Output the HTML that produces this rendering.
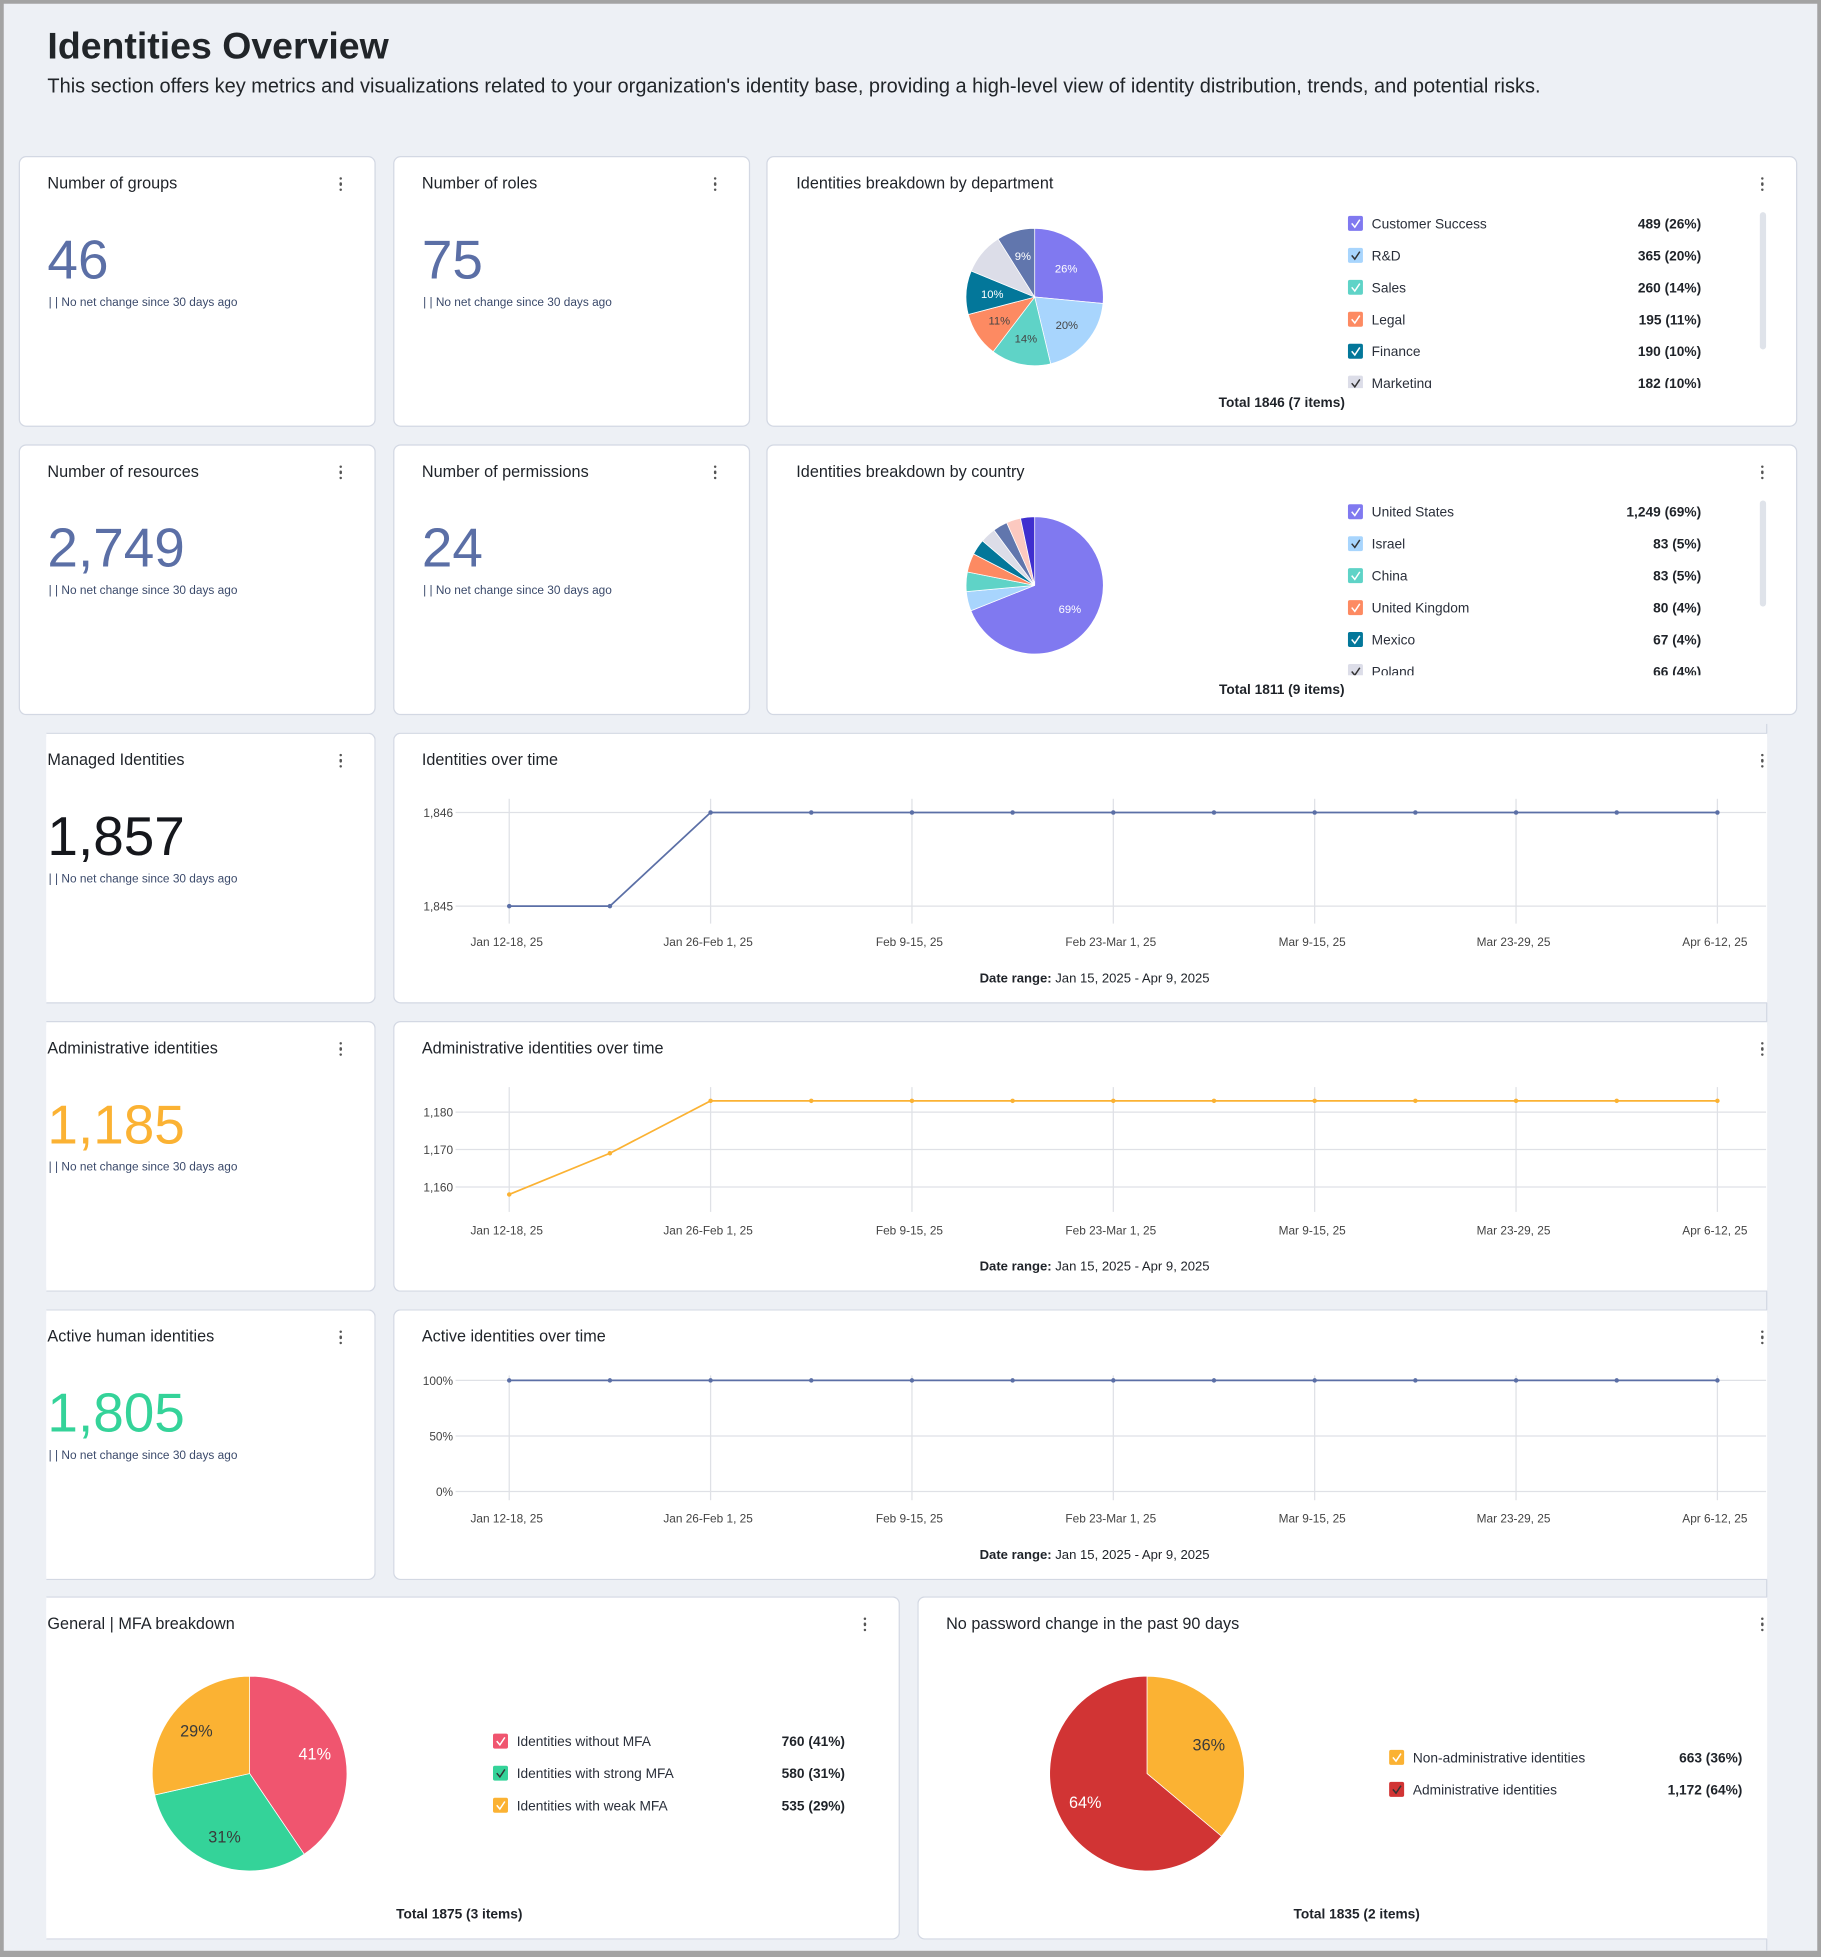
<!DOCTYPE html>
<html><head><meta charset="utf-8">
<style>
html,body{margin:0;padding:0;width:1821px;height:1957px;overflow:hidden;background:#a3a3a3;}
#wrap{position:absolute;left:0;top:0;width:1459px;height:1568px;transform:scale(1.24811);transform-origin:0 0;font-family:"Liberation Sans",sans-serif;color:#212529;}
#page{position:absolute;left:3px;top:3px;width:1453px;height:1560px;background:#edf0f5;overflow:hidden;}
.card{position:absolute;background:#fff;border:1px solid #d3d8e3;border-radius:6px;box-sizing:border-box;}
.card.clipL{border-left:none;border-top-left-radius:0;border-bottom-left-radius:0;}
.card.clipR{border-right:none;border-top-right-radius:0;border-bottom-right-radius:0;}
.ttl{position:absolute;font-size:13px;color:#1f2329;white-space:nowrap;}
.dots{position:absolute;width:3px;font-size:0;}
.dots i{display:block;width:2.4px;height:2.4px;border-radius:50%;background:#555;margin-bottom:2px;}
.big{position:absolute;font-size:44px;color:#5b6fa6;line-height:1;}
.sub{position:absolute;font-size:9.5px;color:#3b4a6b;white-space:nowrap;}
svg{position:absolute;left:0;top:0;overflow:visible;}
</style></head>
<body>
<div id="wrap">
<div id="page">
</div>
<svg id="svg" width="1459" height="1568" style="pointer-events:none"></svg>
</div>
<script>
// ---------- data ----------
const deptNames=["Customer Success","R&D","Sales","Legal","Finance","Marketing","Operations"];
const deptValues=[489,365,260,195,190,182,165];
const countryNames=["United States","Israel","China","United Kingdom","Mexico","Poland","Germany","India","Canada"];
const countryValues=[1249,83,83,80,67,66,62,61,60];
const mfaNames=["Identities without MFA","Identities with strong MFA","Identities with weak MFA"];
const mfaValues=[760,580,535];
const pwNames=["Non-administrative identities","Administrative identities"];
const pwValues=[663,1172];
const weekLabels=["Jan 12-18, 25","Jan 26-Feb 1, 25","Feb 9-15, 25","Feb 23-Mar 1, 25","Mar 9-15, 25","Mar 23-29, 25","Apr 6-12, 25"];
const managedSeries=[1845,1845,1846,1846,1846,1846,1846,1846,1846,1846,1846,1846,1846];
const managedTicks=[1845,1846];
const adminSeries=[1158,1169,1183,1183,1183,1183,1183,1183,1183,1183,1183,1183,1183];
const adminTicks=[1160,1170,1180];
const activeSeries=[100,100,100,100,100,100,100,100,100,100,100,100,100];
const activeTicks=[0,50,100];

const page=document.getElementById('page');
const svg=document.getElementById('svg');
const NS="http://www.w3.org/2000/svg";
const OX=3,OY=3;
function div(cls,x,y,w,h,html){const d=document.createElement('div');d.className=cls;d.style.left=(x-OX)+'px';d.style.top=(y-OY)+'px';if(w!=null)d.style.width=w+'px';if(h!=null)d.style.height=h+'px';if(html!=null)d.innerHTML=html;page.appendChild(d);return d;}
function el(tag,attrs,parent){const e=document.createElementNS(NS,tag);for(const k in attrs)e.setAttribute(k,attrs[k]);(parent||svg).appendChild(e);return e;}
function txt(x,y,s,size,fill,anchor,weight){const t=el('text',{x:x,y:y,'font-size':size,fill:fill,'text-anchor':anchor||'start','font-family':'Liberation Sans, sans-serif'});if(weight)t.setAttribute('font-weight',weight);t.textContent=s;return t;}

const h=div('',38,21,null,null,'Identities Overview');h.style.position='absolute';h.style.fontSize='30px';h.style.fontWeight='bold';h.style.whiteSpace='nowrap';

const sd=div('',38,61,null,null,"This section offers key metrics and visualizations related to your organization's identity base, providing a high-level view of identity distribution, trends, and potential risks.");sd.style.position='absolute';sd.style.fontSize='16px';sd.style.whiteSpace='nowrap';


function card(x,y,w,hh,title,name,cls,tx,dotsX){
  const c=div('card '+(cls||''),x,y,w,hh);
  
  const t=div('ttl',tx||38,140,null,null,title);t.style.top=(y+14-OY)+'px';
  
  const d=div('dots',dotsX,y+17,3,12,'<i></i><i></i><i></i>');
  
  return c;
}
function kpi(x,y,w,title,value,color,name,cls,tx,dx){
  card(x,y,w,217,title,name,cls,tx,dx);
  const b=div('big',tx,y+62,null,null,value);b.style.color=color;
  
  const s=div('sub',tx+1,y+112,null,null,'| | No net change since 30 days ago');
  
}
kpi(15,125,286,'Number of groups','46','#5b6fa6','groups-kpi','',38,272);
kpi(315,125,286,'Number of roles','75','#5b6fa6','roles-kpi','',338,572);
kpi(15,356,286,'Number of resources','2,749','#5b6fa6','resources-kpi','',38,272);
kpi(315,356,286,'Number of permissions','24','#5b6fa6','permissions-kpi','',338,572);
kpi(37,587,264,'Managed Identities','1,857','#15171c','managed-identities-kpi','clipL',38,272);
kpi(37,818,264,'Administrative identities','1,185','#fbb233','admin-identities-kpi','clipL',38,272);
kpi(37,1049,264,'Active human identities','1,805','#34d399','active-human-kpi','clipL',38,272);

div('',1415,580,1,990).style.cssText+=';position:absolute;background:#d3d8e3;';

const deptColors=["#8079f0","#a8d5fd","#5fd3c7","#fd8a62","#03779a","#dcdde8","#6176ad"];
const countryColors=["#8079f0","#a8d5fd","#5fd3c7","#fd8a62","#03779a","#dcdde8","#6176ad","#fcc9c0","#3f2fcf"];
function pie(cx,cy,r,vals,colors,name,labelMin,fs,labelColors,lr){
  const tot=vals.reduce((a,b)=>a+b,0);let a0=-Math.PI/2;
  vals.forEach((v,i)=>{
    const a1=a0+v/tot*2*Math.PI;
    const x0=cx+r*Math.cos(a0),y0=cy+r*Math.sin(a0),x1=cx+r*Math.cos(a1),y1=cy+r*Math.sin(a1);
    const p=el('path',{d:`M${cx},${cy}L${x0},${y0}A${r},${r} 0 ${a1-a0>Math.PI?1:0} 1 ${x1},${y1}Z`,fill:colors[i],stroke:'#fff','stroke-width':0.6});
    
    
    const pct=Math.round(v/tot*100);
    if(pct>=labelMin && labelColors[i]){const am=(a0+a1)/2;const t=txt(cx+lr*r*Math.cos(am),cy+lr*r*Math.sin(am)+fs*0.35,pct+'%',fs,labelColors[i],'middle');
      }
    a0=a1;
  });
  return tot;
}
function legend(names,vals,colors,x,vx,y0,dy,name,clipTop,clipBot){
  const tot=vals.reduce((a,b)=>a+b,0);
  const g=el('g',{});
  if(clipTop!=null){const id='clip'+name;const cp=el('clipPath',{id:id});el('rect',{x:x-5,y:clipTop,width:vx-x+20,height:clipBot-clipTop},cp);g.setAttribute('clip-path','url(#'+id+')');}
  names.forEach((n,i)=>{
    const y=y0+i*dy;
    const r=el('rect',{x:x,y:y-6,width:12,height:12,rx:1.5,fill:colors[i]},g);
    
    el('path',{d:`M${x+3},${y}l2.5,3l4,-6`,stroke:(i==1||i==5)?'#333':'#fff','stroke-width':1.2,fill:'none'},g);
    const t=txt(x+19,y+4,n,11,'#2a2f3a','start');g.appendChild(t);
    
    const pc=Math.round(vals[i]/tot*100);
    const v=txt(vx,y+4,vals[i].toLocaleString('en-US')+' ('+pc+'%)',11,'#1f2329','end','bold');g.appendChild(v);
    
  });
}
card(614,125,826,217,'Identities breakdown by department','department-breakdown-card','',638,1411);
const dt=pie(829,238,55,deptValues,deptColors,'department-pie',9,9,["#fff","#444","#444","#444","#fff",null,"#fff"],0.62);
legend(deptNames,deptValues,deptColors,1080,1363,179,25.6,'department',169,311);
el('rect',{x:1410,y:170,width:5,height:110,rx:2.5,fill:'#dfe3ea'});
let t1=txt(1027,326,'Total '+dt+' ('+deptValues.length+' items)',11,'#1f2329','middle','bold');

card(614,356,826,217,'Identities breakdown by country','country-breakdown-card','',638,1411);
const ct=pie(829,469,55,countryValues,countryColors,'country-pie',50,9,Array(9).fill('#fff'),0.62);
legend(countryNames,countryValues,countryColors,1080,1363,410,25.6,'country',400,541);
el('rect',{x:1410,y:401,width:5,height:85,rx:2.5,fill:'#dfe3ea'});
let t2=txt(1027,556,'Total '+ct+' ('+countryValues.length+' items)',11,'#1f2329','middle','bold');


function lineChart(y,title,series,ticks,yPix0,yPix1,color,fmt,name){
  card(315,y,1101,217,title,name,'clipR',338,1411);
  const x0=408,x1=1376,n=series.length;
  const xs=i=>x0+i*(x1-x0)/(n-1);
  const t0=ticks[0],t1=ticks[ticks.length-1];
  const ys=v=>yPix0+(v-t0)/(t1-t0)*(yPix1-yPix0);
  const top=y+53,bot=y+153;
  ticks.forEach(t=>{const yy=ys(t);el('line',{x1:365,x2:1415,y1:yy,y2:yy,stroke:'#dfe1e6','stroke-width':1});
    const lb=txt(363,yy+3.5,fmt(t),9.5,'#444','end');});
  weekLabels.forEach((l,k)=>{const i=k*2;const xx=xs(i);el('line',{x1:xx,x2:xx,y1:top,y2:bot,stroke:'#dfe1e6','stroke-width':1});
    const lb=txt(xx-2,y+171,l,9.5,'#444','middle');});
  const pts=series.map((v,i)=>xs(i)+','+ys(v)).join(' ');
  const pl=el('polyline',{points:pts,fill:'none',stroke:color,'stroke-width':1.4});
  
  series.forEach((v,i)=>{const c=el('circle',{cx:xs(i),cy:ys(v),r:1.8,fill:color});
    });
  const dr=el('text',{x:877,y:y+200,'font-size':10.5,fill:'#1f2329','text-anchor':'middle','font-family':'Liberation Sans, sans-serif'});
  dr.innerHTML='<tspan font-weight="bold">Date range:</tspan> Jan 15, 2025 - Apr 9, 2025';
  
}
const comma=v=>v.toLocaleString('en-US');
lineChart(587,'Identities over time',managedSeries,managedTicks,726,651,'#5b6fa6',comma,'identities-over-time');
lineChart(818,'Administrative identities over time',adminSeries,adminTicks,951,891,'#fbb233',comma,'admin-over-time');
lineChart(1049,'Active identities over time',activeSeries,activeTicks,1195,1106,'#5b6fa6',v=>v+'%','active-over-time');

card(37,1279,684,275,'General | MFA breakdown','mfa-breakdown-card','clipL',38,692);
const mt=pie(200,1421,78,mfaValues,["#f0556f","#34d399","#fbb233"],'mfa-pie',1,13,["#fff","#3a3a3a","#3a3a3a"],0.7);
legend(mfaNames,mfaValues,["#f0556f","#34d399","#fbb233"],395,677,1395,25.7,'mfa');
let t3=txt(368,1537,'Total '+mt+' ('+mfaValues.length+' items)',11,'#1f2329','middle','bold');


card(735,1279,681,275,'No password change in the past 90 days','password-change-card','clipR',758,1411);
const pt=pie(919,1421,78,pwValues,["#fbb233","#d13434"],'password-pie',1,13,["#3a3a3a","#fff"],0.7);
legend(pwNames,pwValues,["#fbb233","#d13434"],1113,1396,1408,25.7,'password');
let t4=txt(1087,1537,'Total '+pt+' ('+pwValues.length+' items)',11,'#1f2329','middle','bold');

</script>
</body></html>
